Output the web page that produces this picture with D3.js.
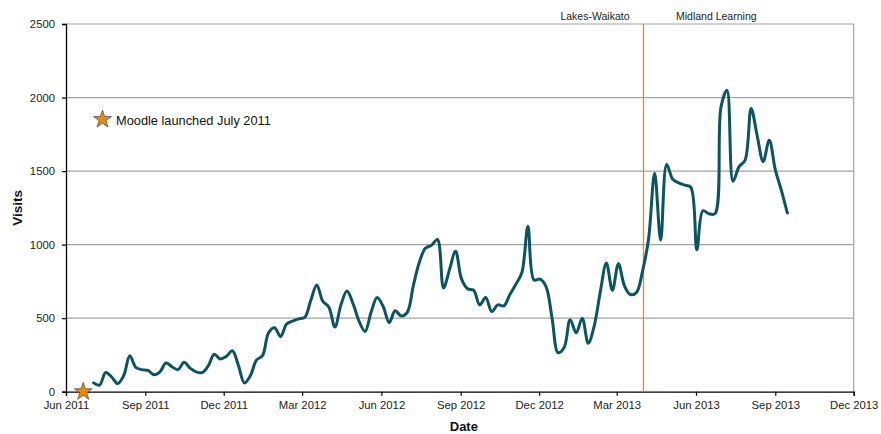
<!DOCTYPE html>
<html>
<head>
<meta charset="utf-8">
<script src="https://cdn.jsdelivr.net/npm/d3@7"></script>
<style>
  body { margin: 0; background: #fff; }
  svg { display: block; font-family: "Liberation Sans", Arial, sans-serif; }
</style>
</head>
<body>
<div id="chart"></div>
<script>
const width = 881;
const height = 434;
const margin = { top: 24, right: 27.3, bottom: 42.3, left: 66 };

// weekly visits, first week starting 3 July 2011
const firstWeek = "2011-07-03";
const visits = [
  60, 45, 130, 100, 55, 110, 245, 165, 150, 145,
  115, 135, 195, 170, 150, 200, 160, 135, 130, 175,
  255, 222, 240, 278, 180, 60, 110, 215, 245, 400,
  435, 375, 460, 480, 495, 505, 620, 725, 615, 575,
  440, 590, 685, 600, 480, 410, 540, 640, 580, 470,
  550, 515, 540, 720, 880, 975, 995, 1035, 705, 830,
  955, 765, 700, 690, 590, 640, 545, 590, 583, 660,
  730, 810, 1125, 760, 765, 715, 500, 265, 300, 490,
  400, 500, 330, 450, 680, 875, 690, 870, 720, 660,
  675, 820, 1040, 1485, 1030, 1545, 1445, 1420, 1405, 1390,
  965, 1230, 1210, 1210, 1935, 2050, 1430, 1530, 1575, 1925,
  1740, 1565, 1710, 1510, 1370, 1215
];

const xTickDates = [
  "2011-06-01", "2011-09-01", "2011-12-01", "2012-03-01", "2012-06-01", "2012-09-01",
  "2012-12-01", "2013-03-01", "2013-06-01", "2013-09-01", "2013-12-01"
];
const xTickLabels = [
  "Jun 2011", "Sep 2011", "Dec 2011", "Mar 2012", "Jun 2012", "Sep 2012",
  "Dec 2012", "Mar 2013", "Jun 2013", "Sep 2013", "Dec 2013"
];
const yTicks = [0, 500, 1000, 1500, 2000, 2500];

const launchDate = "2011-06-21";
const launchLabel = "Moodle launched July 2011";
const switchDate = "2013-04-01";
const beforeLabel = "Lakes-Waikato";
const afterLabel = "Midland Learning";

const lineColor = "#0b5460";
const orange = "#ec8a06";
const gridColor = "#a3a3a3";

const parse = d3.timeParse("%Y-%m-%d");

draw();

function draw() {
  const start = parse(firstWeek);
  const rows = visits.map((v, i) => ({ date: d3.timeDay.offset(start, 7 * i), value: v }));

  const x = d3.scaleTime()
    .domain([parse(xTickDates[0]), parse(xTickDates[xTickDates.length - 1])])
    .range([margin.left, width - margin.right]);

  const y = d3.scaleLinear()
    .domain([0, 2500])
    .range([height - margin.bottom, margin.top]);

  const svg = d3.select("#chart").append("svg")
    .attr("width", width)
    .attr("height", height);

  // gridlines
  svg.append("g")
    .selectAll("line")
    .data(yTicks.filter(d => d > 0))
    .join("line")
    .attr("x1", margin.left)
    .attr("x2", width - margin.right)
    .attr("y1", d => y(d))
    .attr("y2", d => y(d))
    .attr("stroke", gridColor)
    .attr("stroke-width", 1.2);

  // right border of plot area
  svg.append("line")
    .attr("x1", width - margin.right)
    .attr("x2", width - margin.right)
    .attr("y1", y(2500))
    .attr("y2", y(0))
    .attr("stroke", gridColor)
    .attr("stroke-width", 1.2);

  // y axis
  const yAxis = svg.append("g")
    .attr("transform", `translate(${margin.left},0)`)
    .call(d3.axisLeft(y).tickValues(yTicks).tickSize(4).tickPadding(7).tickFormat(d3.format("d")));
  styleAxis(yAxis);

  // x axis
  const xAxis = svg.append("g")
    .attr("transform", `translate(0,${y(0)})`)
    .call(d3.axisBottom(x)
      .tickValues(xTickDates.map(parse))
      .tickSize(4)
      .tickPadding(5)
      .tickFormat((d, i) => xTickLabels[i]));
  styleAxis(xAxis);

  // switch of provider
  const sx = Math.round(x(parse(switchDate))) + 0.5;
  svg.append("line")
    .attr("x1", sx)
    .attr("x2", sx)
    .attr("y1", y(2500))
    .attr("y2", y(0))
    .attr("stroke", orange)
    .attr("stroke-width", 1.3);

  svg.append("text")
    .attr("x", sx - 14)
    .attr("y", 19.5)
    .attr("text-anchor", "end")
    .attr("font-size", "10.5px")
    .attr("fill", "#222")
    .text(beforeLabel);

  svg.append("text")
    .attr("x", sx + 32.5)
    .attr("y", 19.5)
    .attr("font-size", "10.5px")
    .attr("fill", "#222")
    .text(afterLabel);

  // visits line
  const line = d3.line()
    .x(d => x(d.date))
    .y(d => y(d.value))
    .curve(d3.curveCatmullRom.alpha(0.5));

  svg.append("path")
    .datum(rows)
    .attr("fill", "none")
    .attr("stroke", lineColor)
    .attr("stroke-width", 3)
    .attr("stroke-linejoin", "round")
    .attr("stroke-linecap", "round")
    .attr("d", line);

  // launch marker
  const star = d3.symbol().type(d3.symbolStar).size(100);

  svg.append("path")
    .attr("d", star())
    .attr("transform", `translate(${x(parse(launchDate))},${y(0)})`)
    .attr("fill", orange)
    .attr("stroke", "#555")
    .attr("stroke-width", 0.8);

  // legend
  svg.append("path")
    .attr("d", star())
    .attr("transform", "translate(102.5,119.5)")
    .attr("fill", orange)
    .attr("stroke", "#555")
    .attr("stroke-width", 0.8);

  svg.append("text")
    .attr("x", 116)
    .attr("y", 124.5)
    .attr("font-size", "12.8px")
    .attr("fill", "#111")
    .text(launchLabel);

  // axis titles
  svg.append("text")
    .attr("transform", `translate(22,${(y(0) + y(2500)) / 2}) rotate(-90)`)
    .attr("text-anchor", "middle")
    .attr("font-size", "13.5px")
    .attr("font-weight", "bold")
    .attr("fill", "#111")
    .text("Visits");

  svg.append("text")
    .attr("x", (margin.left + width - margin.right) / 2 + 4)
    .attr("y", 431)
    .attr("text-anchor", "middle")
    .attr("font-size", "13px")
    .attr("font-weight", "bold")
    .attr("fill", "#111")
    .text("Date");
}

function styleAxis(axis) {
  axis.select(".domain").attr("stroke", "#000").attr("stroke-width", 1.3);
  axis.selectAll(".tick line").attr("stroke", "#000").attr("stroke-width", 1.2);
  axis.selectAll(".tick text")
    .attr("font-size", "11.3px")
    .attr("font-family", "'Liberation Sans', Arial, sans-serif")
    .attr("fill", "#222");
}
</script>
</body>
</html>
